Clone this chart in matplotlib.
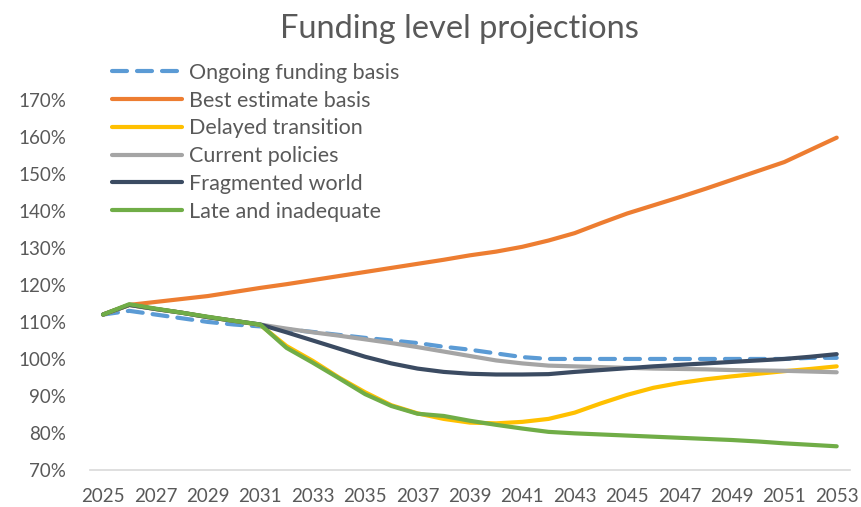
import numpy as np
import matplotlib
matplotlib.use("Agg")
import matplotlib.pyplot as plt

# --- dados ---
years = list(range(2025, 2054))

ongoing = [112, 113, 112, 111, 110, 109.3, 108.8, 108, 107.3, 106.5, 105.7, 105, 104.3, 103.3,
           102.5, 101.5, 100.5, 100, 100, 100, 100, 100, 100, 100, 100, 100, 100, 100.3, 100.3]
best_estimate = [112, 114.6, 115.4, 116.2, 117, 118.1, 119.2, 120.2, 121.3, 122.4, 123.5, 124.6,
                 125.7, 126.8, 128, 129, 130.3, 132, 134, 136.7, 139.3, 141.5, 143.7, 146, 148.4,
                 150.8, 153.2, 156.5, 159.8]
delayed = [112, 114.6, 113.5, 112.5, 111.3, 110.3, 109.2, 103.5, 99.5, 95, 91, 87.5, 85.3, 83.8,
           82.8, 82.6, 83, 83.8, 85.5, 88, 90.3, 92.2, 93.5, 94.5, 95.3, 96, 96.7, 97.3, 98]
current = [112, 114.6, 113.5, 112.5, 111.3, 110.3, 109.3, 108.2, 107.2, 106.3, 105.3, 104.3, 103.2,
           102, 100.8, 99.6, 98.8, 98.2, 98, 97.8, 97.6, 97.4, 97.3, 97.2, 97, 96.9, 96.8, 96.6, 96.4]
fragmented = [112, 114.6, 113.5, 112.5, 111.3, 110.3, 109.3, 107.2, 105, 102.8, 100.6, 98.8, 97.4,
              96.5, 96, 95.8, 95.8, 95.9, 96.5, 97, 97.5, 98, 98.4, 98.8, 99.2, 99.6, 100, 100.6, 101.3]
late = [112, 114.8, 113.6, 112.5, 111.4, 110.3, 109.3, 103, 99, 94.8, 90.5, 87.3, 85.2, 84.6, 83.3,
        82.2, 81.2, 80.3, 79.9, 79.6, 79.3, 79, 78.7, 78.4, 78.1, 77.7, 77.2, 76.8, 76.4]

series_names = ["Ongoing funding basis", "Best estimate basis", "Delayed transition",
                "Current policies", "Fragmented world", "Late and inadequate"]
series_values = [ongoing, best_estimate, delayed, current, fragmented, late]
colors = ["#5B9BD5", "#ED7D31", "#FFC000", "#A5A5A5", "#3B4B62", "#70AD47"]

text_color = "#595959"
plt.rcParams["font.family"] = ["Lato", "DejaVu Sans"]

fig = plt.figure(figsize=(8.61, 5.07), dpi=100)
ax = fig.add_axes([0.1045, 0.073, 0.8825, 0.73])

x = np.arange(len(years))
for i, (name, vals) in enumerate(zip(series_names, series_values)):
    if i == 0:
        ax.plot(x, vals, color=colors[i], lw=3, label=name, dashes=[3.6, 2.4],
                dash_capstyle="round", solid_capstyle="round")
    else:
        ax.plot(x, vals, color=colors[i], lw=3, label=name,
                solid_capstyle="round", solid_joinstyle="round")

ax.set_xlim(-0.5, len(years) - 0.5)
ax.set_ylim(70, 170)
ax.set_yticks(np.arange(70, 171, 10))
ax.set_yticklabels([f"{v}%" for v in range(70, 171, 10)])
ax.set_xticks(x[::2])
ax.set_xticklabels([str(y) for y in years[::2]])

for s in ["top", "right", "left"]:
    ax.spines[s].set_visible(False)
ax.spines["bottom"].set_color("#D9D9D9")
ax.spines["bottom"].set_linewidth(1.2)
ax.tick_params(axis="both", length=0, colors=text_color, labelsize=13.5)
ax.tick_params(axis="y", pad=17)
ax.tick_params(axis="x", pad=13)

fig.text(0.534, 0.943, "Funding level projections", ha="center", va="center",
         fontsize=23.5, color=text_color)

# legenda por cima da área do gráfico (como no Excel)
leg = ax.legend(loc="upper left", bbox_to_anchor=(112 / 861, 1 - 63 / 507),
                bbox_transform=fig.transFigure, frameon=False,
                fontsize=15.5, handlelength=3.25, handletextpad=0.33, labelspacing=0.36,
                borderpad=0, borderaxespad=0)
for t in leg.get_texts():
    t.set_color(text_color)

fig.savefig("out.png", dpi=100)
